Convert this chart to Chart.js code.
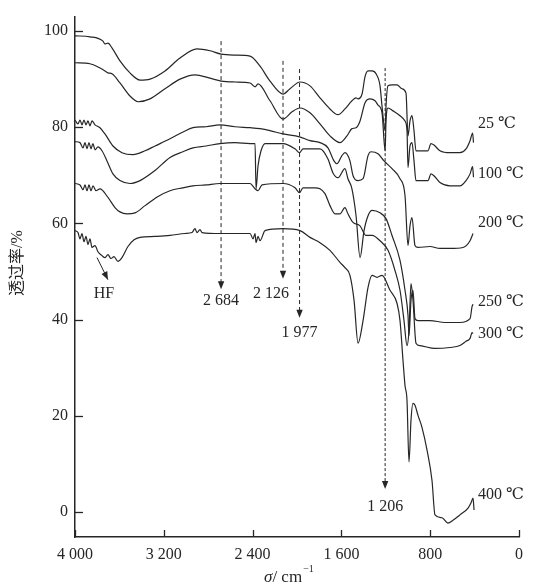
<!DOCTYPE html>
<html>
<head>
<meta charset="utf-8">
<script src="https://cdn.jsdelivr.net/npm/chart.js@4.4.1/dist/chart.umd.min.js"></script>
<style>
  html, body { margin: 0; padding: 0; background: #fff; }
  #wrap { width: 536px; height: 587px; position: relative; }
</style>
</head>
<body>
<div id="wrap"><canvas id="ftir"></canvas></div>
<script>
// ---- data: [wavenumber (cm-1), transmittance (%)] ----
const spec25 = [[4000,99.0],[3865,98.8],[3748,97.9],[3730,97.3],[3703,97.5],[3667,96.5],[3595,93.8],[3505,91.3],[3414,89.8],[3324,90.0],[3189,91.7],[3054,94.4],[2901,96.3],[2784,95.9],[2684,95.2],[2559,95.0],[2423,94.8],[2333,92.7],[2243,89.6],[2126,86.9],[2063,88.0],[1973,89.4],[1883,88.6],[1793,86.1],[1703,83.8],[1631,82.6],[1568,83.8],[1505,85.5],[1468,86.1],[1450,85.9],[1414,86.9],[1387,90.5],[1360,91.7],[1324,91.7],[1288,91.1],[1252,88.6],[1234,84.4],[1206,79.3],[1198,84.4],[1180,88.6],[1144,88.8],[1099,88.8],[1054,88.0],[1018,87.1],[1000,78.2],[982,81.3],[964,82.4],[946,79.3],[928,75.1],[820,75.1],[793,76.6],[766,76.3],[712,75.1],[622,74.7],[532,74.7],[477,75.5],[441,77.2],[418,78.8],[410,76.8]];
const spec100 = [[4000,93.4],[3865,93.2],[3775,92.3],[3730,91.7],[3703,91.3],[3667,91.1],[3595,89.2],[3505,86.5],[3432,85.3],[3324,85.9],[3189,88.0],[3054,90.0],[2919,90.9],[2784,90.2],[2684,89.6],[2559,89.4],[2423,89.2],[2378,88.4],[2351,89.0],[2243,85.5],[2126,81.7],[2045,83.2],[1973,84.0],[1883,83.0],[1793,80.7],[1703,78.2],[1613,76.8],[1550,78.2],[1505,79.7],[1468,79.9],[1432,81.3],[1387,85.1],[1342,85.9],[1297,85.5],[1270,84.6],[1234,83.0],[1206,75.1],[1198,81.3],[1180,84.0],[1135,83.4],[1072,82.4],[1027,81.3],[1009,79.3],[1000,71.6],[982,76.1],[964,76.8],[946,73.0],[928,68.9],[820,68.9],[793,70.3],[766,69.9],[712,68.5],[622,67.8],[532,67.8],[477,68.9],[441,70.3],[418,71.8],[410,69.6]];
const spec200 = [[4000,81.5],[3973,80.7],[3955,81.5],[3937,80.5],[3919,81.5],[3901,80.5],[3883,81.3],[3865,80.3],[3847,81.3],[3820,80.5],[3775,79.9],[3730,78.6],[3658,76.1],[3577,74.7],[3477,74.3],[3369,75.1],[3279,76.1],[3144,77.6],[3027,79.0],[2937,79.9],[2820,80.1],[2694,80.5],[2559,80.1],[2423,79.9],[2333,79.7],[2243,79.3],[2126,78.6],[1977,78.0],[1883,77.2],[1793,76.8],[1721,75.7],[1667,73.0],[1640,72.4],[1595,74.1],[1568,74.7],[1523,73.0],[1495,69.9],[1450,68.9],[1405,69.3],[1360,74.1],[1333,74.9],[1270,74.5],[1216,73.0],[1144,71.4],[1072,69.3],[1027,65.8],[1000,55.4],[982,59.5],[964,61.2],[937,55.4],[910,55.0],[802,55.2],[712,54.8],[622,54.8],[505,55.0],[441,56.4],[414,57.9]];
const spec250 = [[4000,77.0],[3955,76.8],[3928,75.7],[3910,76.8],[3892,75.5],[3874,76.8],[3856,75.5],[3838,76.6],[3820,75.3],[3793,75.9],[3757,75.1],[3712,73.0],[3658,70.3],[3595,68.9],[3505,68.3],[3414,68.9],[3279,71.0],[3144,73.7],[3027,74.9],[2937,75.7],[2820,76.1],[2694,76.6],[2559,76.8],[2423,76.6],[2378,76.6],[2369,67.2],[2351,72.0],[2324,75.1],[2288,76.6],[2126,76.6],[2018,75.5],[1977,74.7],[1946,75.5],[1793,75.5],[1721,73.4],[1676,70.5],[1631,69.5],[1568,71.4],[1541,69.3],[1505,67.2],[1468,61.6],[1432,52.9],[1396,58.5],[1360,61.6],[1324,62.7],[1252,62.2],[1198,61.0],[1144,57.5],[1072,52.3],[1027,46.1],[1000,40.9],[991,36.7],[973,44.0],[955,46.1],[937,40.2],[910,39.8],[802,39.8],[667,39.4],[532,39.4],[441,40.2],[423,42.7],[414,43.2]];
const spec300 = [[4000,68.3],[3955,68.0],[3928,67.0],[3910,68.0],[3892,66.8],[3874,68.0],[3856,66.8],[3838,67.8],[3811,66.8],[3775,67.2],[3703,65.4],[3640,63.3],[3595,62.4],[3532,62.0],[3459,62.2],[3369,63.7],[3252,65.6],[3144,66.8],[3027,67.4],[2937,67.8],[2820,68.0],[2694,68.3],[2559,68.3],[2423,68.3],[2378,67.2],[2351,66.8],[2315,68.0],[2126,68.3],[2018,67.4],[1977,66.4],[1946,67.4],[1838,67.4],[1793,67.2],[1748,66.2],[1703,63.7],[1658,62.0],[1613,62.0],[1568,63.3],[1541,62.0],[1495,60.2],[1432,59.5],[1378,57.5],[1324,57.5],[1252,56.4],[1180,54.4],[1117,50.2],[1072,46.1],[1036,39.8],[1009,34.6],[991,37.8],[973,47.5],[955,44.0],[928,35.1],[892,34.6],[757,34.0],[622,34.2],[532,34.6],[477,35.5],[441,36.1],[423,37.3],[414,37.1]];
const spec400 = [[4000,58.5],[3973,58.1],[3955,56.8],[3937,57.9],[3919,56.2],[3901,57.3],[3883,55.6],[3865,56.8],[3847,55.0],[3820,55.4],[3793,54.1],[3757,53.3],[3730,52.9],[3703,53.5],[3676,52.7],[3649,53.1],[3613,52.1],[3577,52.9],[3523,55.2],[3468,56.6],[3414,57.1],[3279,57.3],[3144,57.5],[3009,57.9],[2946,58.1],[2919,58.9],[2901,58.1],[2874,58.7],[2856,58.1],[2694,57.9],[2514,57.9],[2423,57.9],[2396,56.8],[2378,57.9],[2369,56.0],[2351,57.3],[2333,56.4],[2288,58.5],[2126,58.9],[1973,58.5],[1883,57.1],[1793,56.0],[1703,54.4],[1613,51.9],[1568,50.8],[1523,49.2],[1486,44.0],[1450,35.1],[1405,39.8],[1360,46.7],[1324,49.2],[1279,48.8],[1234,49.2],[1162,46.1],[1099,43.4],[1072,39.8],[1045,31.5],[1027,26.3],[1009,23.2],[991,10.4],[973,19.1],[955,22.6],[937,22.2],[910,20.1],[874,17.6],[829,12.9],[784,6.6],[757,-0.6],[694,-1.2],[640,-2.3],[595,-1.7],[532,-0.6],[459,0.8],[432,1.9],[414,2.9],[405,0.4]];

const seriesLabels = ['25 ℃', '100 ℃', '200 ℃', '250 ℃', '300 ℃', '400 ℃'];
const xTicks = [0, 800, 1600, 2400, 3200, 4000];
const yTicks = [0, 20, 40, 60, 80, 100];
const peakMarks = [2684, 2126, 1977, 1206];
const peakLabels = ['2 684', '2 126', '1 977', '1 206'];

// label placement (value units) for temperature labels and peak arrows
const tempLabelAt = [{x: 369, y: 80.7}, {x: 369, y: 70.3}, {x: 369, y: 60.2}, {x: 369, y: 43.6}, {x: 369, y: 37.1}, {x: 369, y: 3.5}];
const peakArrows = [
    {top: 97.9, tip: 46.3, ly: 44.0, dx: 0},
    {top: 93.8, tip: 48.5, ly: 45.4, dx: -12},
    {top: 92.1, tip: 40.4, ly: 37.3, dx: 0},
    {top: 92.3, tip: 4.8, ly: 1.0, dx: 0}
];

const INK = '#262626';
const SERIF = '"Liberation Serif", "DejaVu Serif", serif';

function fmtWn(v) {
    if (v >= 1000) return Math.floor(v / 1000) + ' ' + String(v % 1000).padStart(3, '0');
    return String(v);
}

function arrowHead(ctx, x, y, ang, len, half) {
    ctx.save();
    ctx.translate(x, y);
    ctx.rotate(ang);
    ctx.beginPath();
    ctx.moveTo(0, 0);
    ctx.lineTo(-len, -half);
    ctx.lineTo(-len, half);
    ctx.closePath();
    ctx.fill();
    ctx.restore();
}

const decor = {
    id: 'decor',
    afterDraw(chart) {
        const ctx = chart.ctx;
        const xs = chart.scales.x, ys = chart.scales.y;
        const area = chart.chartArea;
        ctx.save();
        ctx.strokeStyle = INK;
        ctx.fillStyle = INK;

        // inward tick marks
        ctx.lineWidth = 1.3;
        xTicks.forEach(v => {
            const px = Math.round(xs.getPixelForValue(v)) + 0.5;
            ctx.beginPath();
            ctx.moveTo(px, area.bottom);
            ctx.lineTo(px, area.bottom - 7);
            ctx.stroke();
        });
        yTicks.forEach(v => {
            const py = Math.round(ys.getPixelForValue(v)) + 0.5;
            ctx.beginPath();
            ctx.moveTo(area.left, py);
            ctx.lineTo(area.left + 8, py);
            ctx.stroke();
        });

        // dashed peak arrows
        ctx.font = '16px ' + SERIF;
        ctx.textAlign = 'center';
        ctx.textBaseline = 'middle';
        peakMarks.forEach((wn, i) => {
            const a = peakArrows[i];
            const px = xs.getPixelForValue(wn);
            const y1 = ys.getPixelForValue(a.top);
            const y2 = ys.getPixelForValue(a.tip);
            ctx.setLineDash(i === 3 ? [3, 2] : [4, 3]);
            ctx.lineWidth = 1;
            ctx.beginPath();
            ctx.moveTo(px, y1);
            ctx.lineTo(px, y2 - 6);
            ctx.stroke();
            ctx.setLineDash([]);
            arrowHead(ctx, px, y2, Math.PI / 2, 8, 3.2);
            ctx.fillText(peakLabels[i], px + a.dx, ys.getPixelForValue(a.ly));
        });

        // HF arrow
        const hx1 = xs.getPixelForValue(3802), hy1 = ys.getPixelForValue(52.9);
        const hx2 = xs.getPixelForValue(3703), hy2 = ys.getPixelForValue(48.3);
        ctx.lineWidth = 1;
        ctx.beginPath();
        ctx.moveTo(hx1, hy1);
        ctx.lineTo(hx2, hy2);
        ctx.stroke();
        arrowHead(ctx, hx2, hy2, Math.atan2(hy2 - hy1, hx2 - hx1), 8, 3.2);
        ctx.fillText('HF', xs.getPixelForValue(3739), ys.getPixelForValue(45.4));

        // temperature labels
        ctx.textAlign = 'left';
        seriesLabels.forEach((t, i) => {
            const p = tempLabelAt[i];
            ctx.fillText(t, xs.getPixelForValue(p.x), ys.getPixelForValue(p.y));
        });

        // y title
        ctx.save();
        ctx.translate(18, 263);
        ctx.rotate(-Math.PI / 2);
        ctx.textAlign = 'center';
        ctx.font = '16px ' + SERIF + ', "Noto Sans CJK SC"';
        ctx.fillText('透过率/%', 0, 0);
        ctx.restore();

        // x title: σ/cm^-1
        ctx.textAlign = 'left';
        ctx.textBaseline = 'alphabetic';
        let tx = 264;
        const ty = 582;
        ctx.font = 'italic 17px ' + SERIF;
        ctx.fillText('σ', tx, ty);
        tx += ctx.measureText('σ').width;
        ctx.font = '17px ' + SERIF;
        ctx.fillText('/ cm', tx, ty);
        tx += ctx.measureText('/ cm').width + 1;
        ctx.font = '10px ' + SERIF;
        ctx.fillText('−1', tx, ty - 10);
        ctx.restore();
    }
};

const allSpectra = [spec25, spec100, spec200, spec250, spec300, spec400];

new Chart(document.getElementById('ftir'), {
    type: 'line',
    data: {
        datasets: allSpectra.map((s, i) => ({
            label: seriesLabels[i],
            data: s.map(p => ({x: p[0], y: p[1]})),
            borderColor: INK,
            borderWidth: 1.2,
            pointRadius: 0,
            cubicInterpolationMode: 'monotone',
            fill: false
        }))
    },
    options: {
        responsive: true,
        maintainAspectRatio: false,
        animation: false,
        layout: { padding: { top: 15, right: 17, left: 0, bottom: 0 } },
        plugins: { legend: { display: false }, tooltip: { enabled: false } },
        scales: {
            x: {
                type: 'linear',
                reverse: true,
                min: 0,
                max: 4000,
                afterBuildTicks: s => { s.ticks = xTicks.map(v => ({value: v})); },
                afterFit: s => { s.height = 50; },
                ticks: {
                    callback: v => fmtWn(v),
                    color: INK,
                    padding: 8,
                    maxRotation: 0,
                    font: { family: SERIF, size: 16 }
                },
                grid: { display: false, drawTicks: false },
                border: { display: true, color: INK, width: 1.5 }
            },
            y: {
                min: -5.2,
                max: 103,
                afterBuildTicks: s => { s.ticks = yTicks.map(v => ({value: v})); },
                afterFit: s => { s.width = 75; },
                ticks: {
                    color: INK,
                    padding: 7,
                    font: { family: SERIF, size: 16 }
                },
                grid: { display: false, drawTicks: false },
                border: { display: true, color: INK, width: 1.5 }
            }
        }
    },
    plugins: [decor]
});
</script>
</body>
</html>
